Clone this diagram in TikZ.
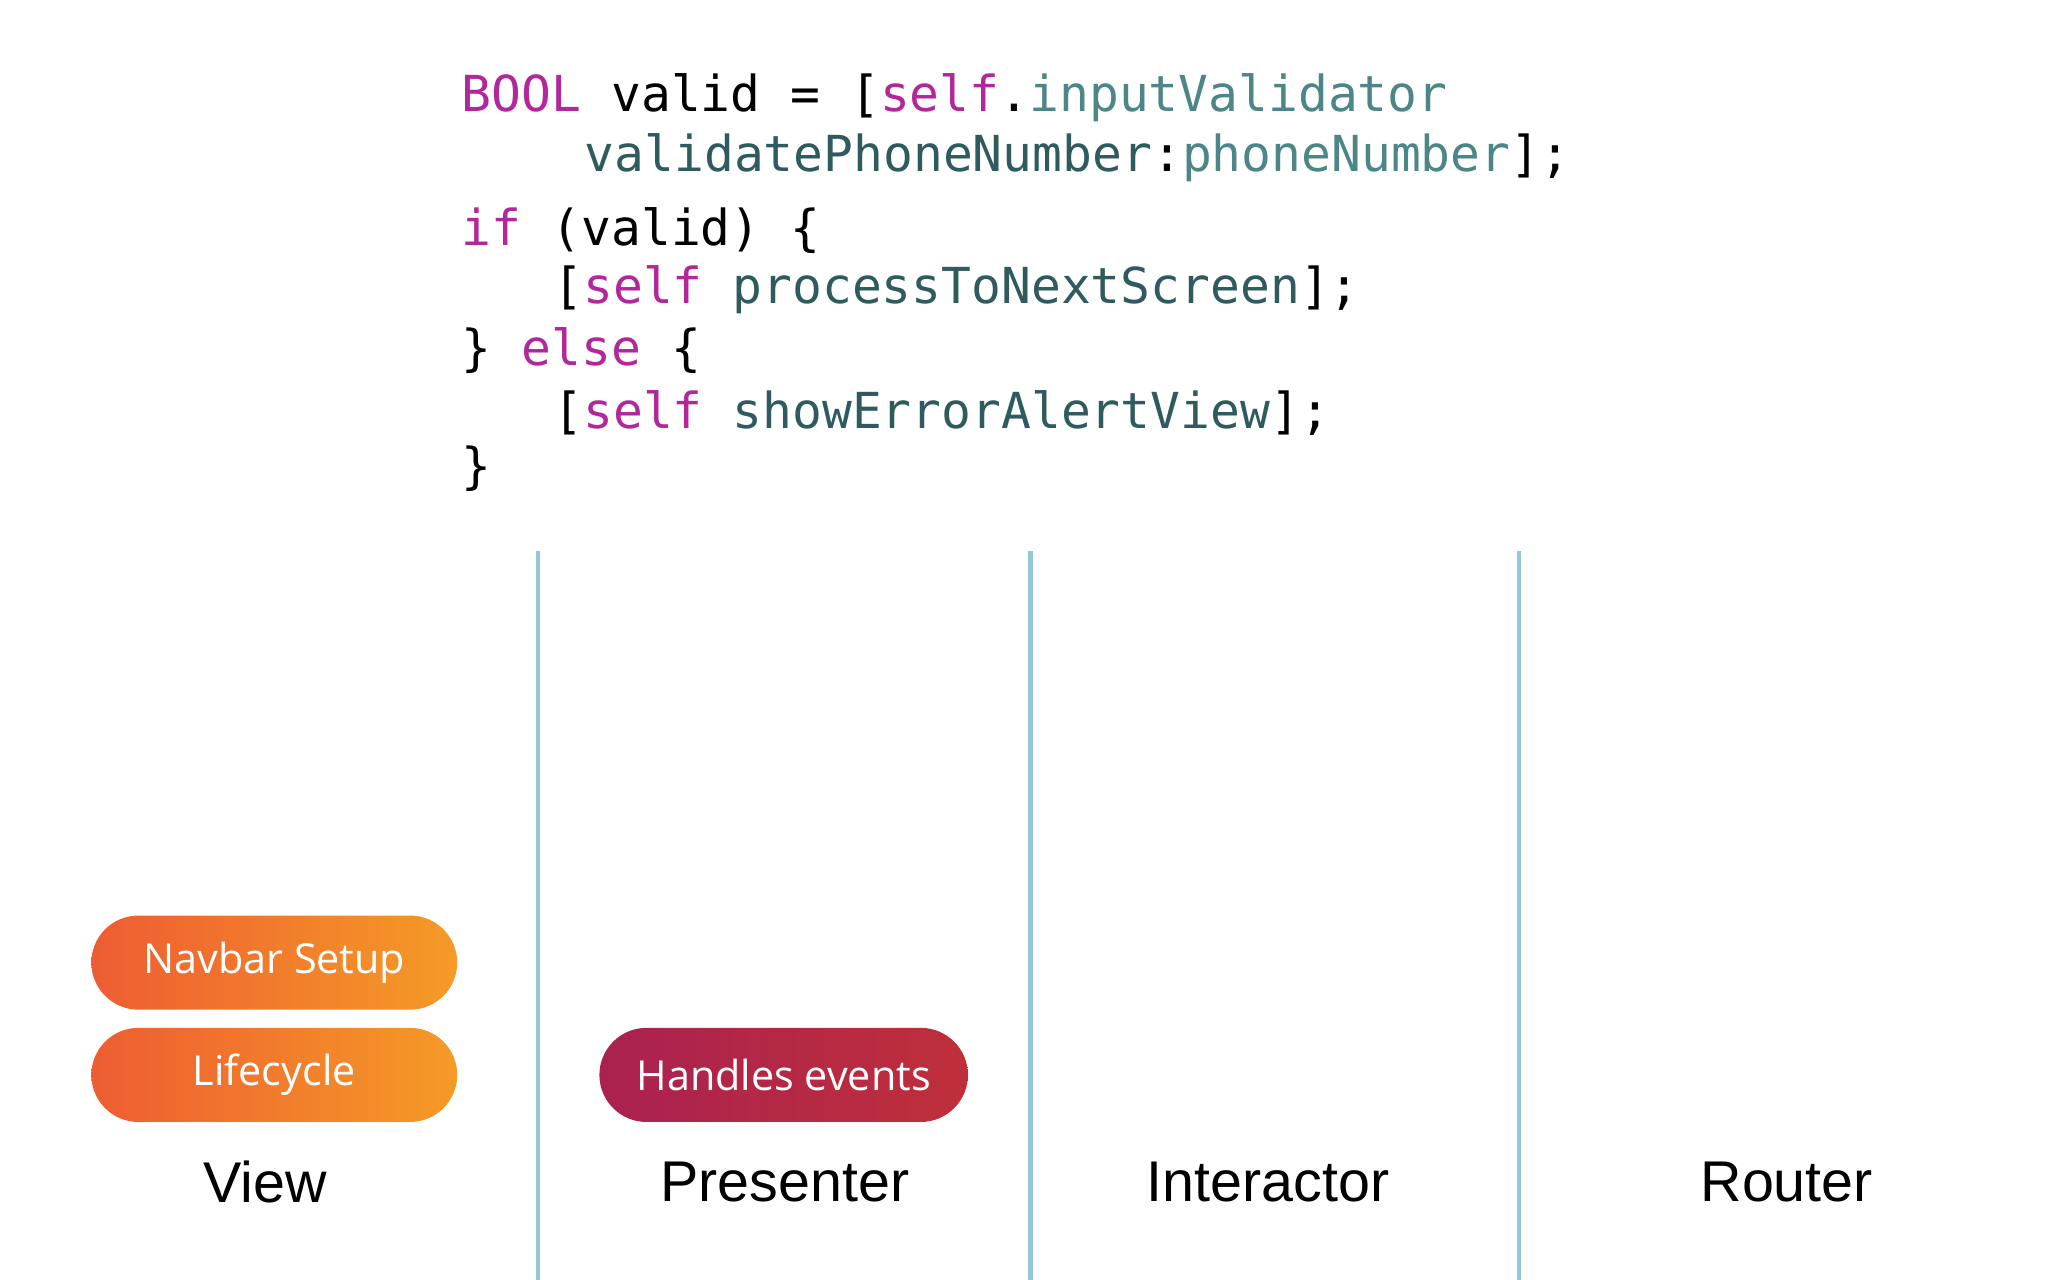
\documentclass[tikz,border=0pt]{standalone}
\usepackage{fontspec}
\setmainfont{Liberation Sans}
\newfontfamily\codefont{DejaVu Sans Mono}
\newfontfamily\pillfont{Open Sans}
\definecolor{kw}{HTML}{B2279B}
\definecolor{meth}{HTML}{2F5B5E}
\definecolor{prop}{HTML}{4C8686}
\definecolor{sep}{HTML}{93C6D6}
\definecolor{orA}{HTML}{EE5C32}
\definecolor{orB}{HTML}{F59B26}
\definecolor{rdA}{HTML}{AA2150}
\definecolor{rdB}{HTML}{BF2F3A}
\begin{document}
\begin{tikzpicture}[x=0.01cm,y=-0.01cm,
  code/.style={anchor=base west,inner sep=0pt,font=\codefont\fontsize{10.8}{13}\selectfont},
  pillO/.style={rounded corners=0.36cm,minimum width=2.8cm,minimum height=0.72cm,left color=orA,right color=orB,text=white,font=\pillfont\fontsize{9}{11}\selectfont},
  pillR/.style={rounded corners=0.36cm,minimum width=2.82cm,minimum height=0.72cm,left color=rdA,right color=rdB,text=white,font=\pillfont\fontsize{9}{11}\selectfont},
  lbl/.style={font=\fontsize{12.5}{15}\selectfont},
  sepline/.style={draw=sep,line width=0.9pt}]
\useasboundingbox (0,0) rectangle (1568,980);
\node[code] (l1) at (353,85) {\textcolor{kw}{BOOL} valid = [\textcolor{kw}{self}.\textcolor{prop}{inputValidator}};
\node[code] (l2) at (447,131) {\textcolor{meth}{validatePhoneNumber}:\textcolor{prop}{phoneNumber}];};
\node[code] (l3) at (353,188) {\textcolor{kw}{if} (valid) \{};
\node[code] (l4) at (423,232) {[\textcolor{kw}{self} \textcolor{meth}{processToNextScreen}];};
\node[code] (l5) at (353,280) {\} \textcolor{kw}{else} \{};
\node[code] (l6) at (423,328) {[\textcolor{kw}{self} \textcolor{meth}{showErrorAlertView}];};
\node[code] (l7) at (353,370) {\}};
\coordinate (s1t) at (412,422); \coordinate (s1b) at (412,980);
\coordinate (s2t) at (789,422); \coordinate (s2b) at (789,980);
\coordinate (s3t) at (1163,422); \coordinate (s3b) at (1163,980);
\draw[sepline] (s1t) -- (s1b);
\draw[sepline] (s2t) -- (s2b);
\draw[sepline] (s3t) -- (s3b);
\node[pillO] (nav) at (210,737) {Navbar Setup};
\node[pillO] (life) at (210,823) {Lifecycle};
\node[pillR] (hand) at (600,823) {Handles events};
\node[lbl] (v) at (203,905) {View};
\node[lbl] (p) at (601,905) {Presenter};
\node[lbl] (i) at (971,905) {Interactor};
\node[lbl] (r) at (1368,905) {Router};
\end{tikzpicture}
\end{document}
